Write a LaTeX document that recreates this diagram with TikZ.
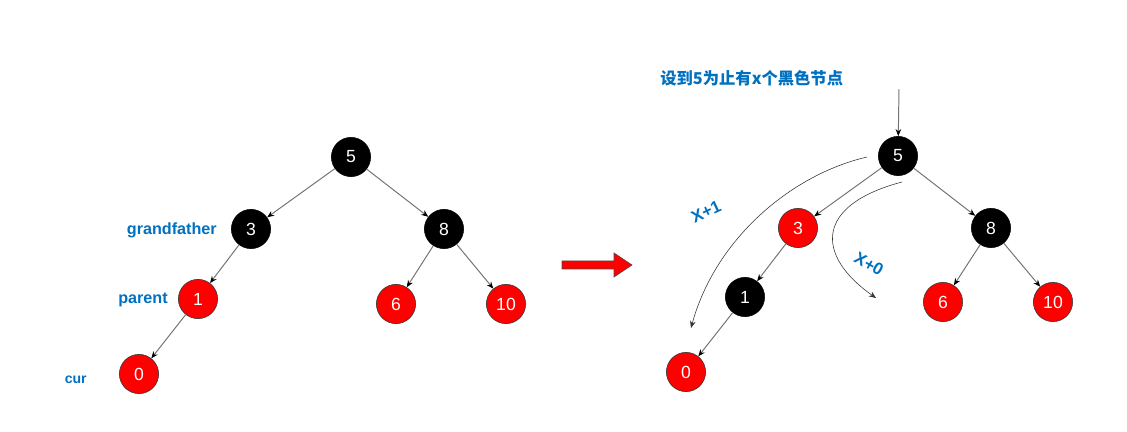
\documentclass[tikz,border=0pt]{standalone}
\usepackage{fontspec}
\setmainfont{Liberation Sans}
\newfontfamily\cjk{Noto Sans CJK SC}
\usetikzlibrary{arrows.meta}
\definecolor{lblblue}{RGB}{0,112,192}
\definecolor{nodered}{RGB}{255,0,0}

\begin{document}
\begin{tikzpicture}[
  x=0.025cm, y=-0.025cm,
  arr/.style={-{Stealth[length=5pt,width=4pt,color=black]}, draw=black!55, line width=0.7pt},
  curv/.style={-{Stealth[length=5pt,width=4pt]}, draw=black!80, thin},
  rnd/.style={circle, draw=black!80, fill=nodered, text=white, minimum size=0.98cm, inner sep=0pt, font=\fontsize{12.5}{14}\selectfont},
  bnd/.style={rnd, fill=black, draw=black},
  lbl/.style={text=lblblue, font=\fontsize{11.5}{13}\selectfont\bfseries, inner sep=0pt}
]
  \useasboundingbox (0,0) rectangle (1127,432);

  % left tree
  \node[bnd] (a5) at (351,157) {5};
  \node[bnd] (a3) at (251,229) {3};
  \node[bnd] (a8) at (444,229) {8};
  \node[rnd] (a1) at (198,299) {1};
  \node[rnd] (a6) at (396,304) {6};
  \node[rnd] (a10) at (506,304) {10};
  \node[rnd] (a0) at (139,374) {0};

  \draw[arr] (a5) -- (a3);
  \draw[arr] (a5) -- (a8);
  \draw[arr] (a3) -- (a1);
  \draw[arr] (a1) -- (a0);
  \draw[arr] (a8) -- (a6);
  \draw[arr] (a8) -- (a10);

  \node[lbl, anchor=east] (gf) at (217,230) {grandfather};
  \node[lbl, anchor=east] (par) at (168,300) {parent};
  \node[lbl, anchor=east, font=\fontsize{10}{12}\selectfont\bfseries] (cur) at (87,380) {cur};

  % big red arrow
  \draw[fill=nodered, draw=black!70] (562,261) -- (614,261) -- (614,253) -- (632,265)
    -- (614,277) -- (614,269) -- (562,269) -- cycle;

  % right tree
  \node[bnd] (b5) at (898,156) {5};
  \node[rnd] (b3) at (798,228) {3};
  \node[bnd] (b8) at (991,228) {8};
  \node[bnd] (b1) at (745,297) {1};
  \node[rnd] (b6) at (943,302) {6};
  \node[rnd] (b10) at (1053,302) {10};
  \node[rnd] (b0) at (686,372) {0};

  \draw[arr] (b5) -- (b3);
  \draw[arr] (b5) -- (b8);
  \draw[arr] (b3) -- (b1);
  \draw[arr] (b1) -- (b0);
  \draw[arr] (b8) -- (b6);
  \draw[arr] (b8) -- (b10);

  \node[lbl, anchor=west, font=\cjk\fontsize{11.6}{13}\selectfont\bfseries] (ttl) at (660,78) {设到5为止有x个黑色节点};
  \coordinate (top) at (899,89);
  \draw[arr] (top) -- (b5);

  % path counts
  \coordinate (p1s) at (867,157);
  \coordinate (p1e) at (691,328);
  \coordinate (p0s) at (902,182);
  \coordinate (p0e) at (876,298);
  \draw[curv] (p1s) .. controls (790,175) and (715,240) .. (p1e);
  \draw[curv] (p0s) .. controls (815,205) and (815,255) .. (p0e);
  \node[lbl, rotate=25, font=\fontsize{12}{14}\selectfont\bfseries] (x1) at (706,212) {X+1};
  \node[lbl, rotate=-30, font=\fontsize{12}{14}\selectfont\bfseries] (x0) at (869,264) {X+0};
\end{tikzpicture}
\end{document}
